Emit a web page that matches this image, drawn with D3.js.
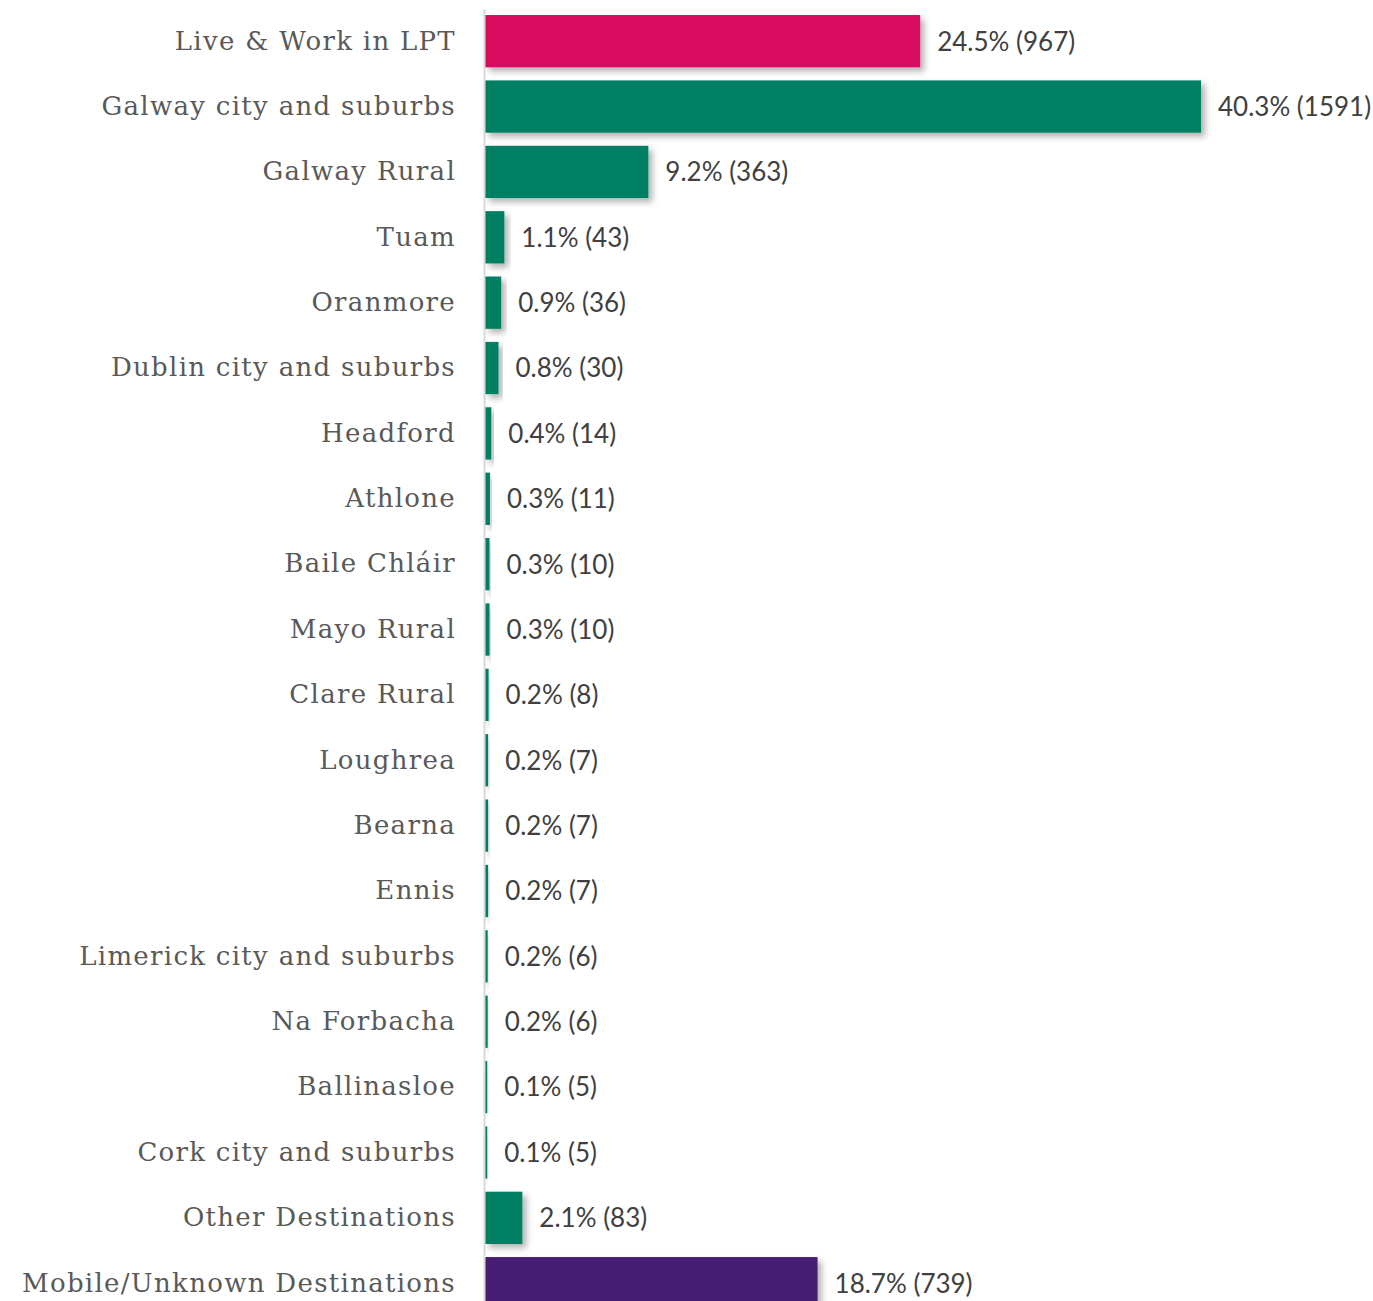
<!DOCTYPE html>
<html><head><meta charset="utf-8">
<script src="https://cdn.jsdelivr.net/npm/d3@7"></script>
<style>body{margin:0;background:#fff}</style>
</head><body>
<svg id="chart" width="1373" height="1301"></svg>
<script>
const categories = ["Live & Work in LPT","Galway city and suburbs","Galway Rural","Tuam","Oranmore","Dublin city and suburbs","Headford","Athlone","Baile Chláir","Mayo Rural","Clare Rural","Loughrea","Bearna","Ennis","Limerick city and suburbs","Na Forbacha","Ballinasloe","Cork city and suburbs","Other Destinations","Mobile/Unknown Destinations"];
const counts = [967,1591,363,43,36,30,14,11,10,10,8,7,7,7,6,6,5,5,83,739];
const percents = ["24.5%","40.3%","9.2%","1.1%","0.9%","0.8%","0.4%","0.3%","0.3%","0.3%","0.2%","0.2%","0.2%","0.2%","0.2%","0.2%","0.1%","0.1%","2.1%","18.7%"];
const groups = ["local","dest","dest","dest","dest","dest","dest","dest","dest","dest","dest","dest","dest","dest","dest","dest","dest","dest","dest","mobile"];

const data = categories.map((c,i)=>({cat:c,count:counts[i],pct:percents[i],group:groups[i]}));
const color = d3.scaleOrdinal().domain(["local","dest","mobile"]).range(["#D80A5F","#007F63","#461F73"]);

const svg = d3.select("#chart");
const x0 = 485;
const x = d3.scaleLinear().domain([0,1591]).range([x0,1201]);
const y = d3.scaleBand().domain(categories).range([8.5,1315.9]).paddingInner(0.2).paddingOuter(0.1);

const defs = svg.append("defs");
const f = defs.append("filter").attr("id","sh").attr("x","-20%").attr("y","-20%").attr("width","150%").attr("height","160%");
f.append("feDropShadow").attr("dx",4).attr("dy",4).attr("stdDeviation",3).attr("flood-color","#000").attr("flood-opacity",0.3);

svg.append("g").selectAll("rect").data(data).join("rect")
  .attr("x",x0).attr("y",d=>y(d.cat))
  .attr("width",d=>x(d.count)-x0).attr("height",y.bandwidth())
  .attr("fill",d=>color(d.group)).attr("filter","url(#sh)");

const ax = svg.append("g").attr("transform",`translate(${x0-1},0)`)
  .call(d3.axisLeft(y).tickSize(0).tickSizeOuter(0).tickPadding(28));
ax.select(".domain").attr("stroke","#d9d9d9").attr("stroke-width",2);
ax.selectAll("text").attr("font-family","'DejaVu Serif', serif").attr("font-size",26).attr("letter-spacing",1.3).attr("fill","#595959");

svg.append("g").selectAll("text").data(data).join("text")
  .attr("x",d=>x(d.count)+17).attr("y",d=>y(d.cat)+y.bandwidth()/2)
  .attr("dy","0.36em")
  .attr("font-family","Lato, sans-serif").attr("font-size",26).attr("letter-spacing",0)
  .attr("fill","#404040")
  .text(d=>`${d.pct} (${d.count})`);
</script>
</body></html>
